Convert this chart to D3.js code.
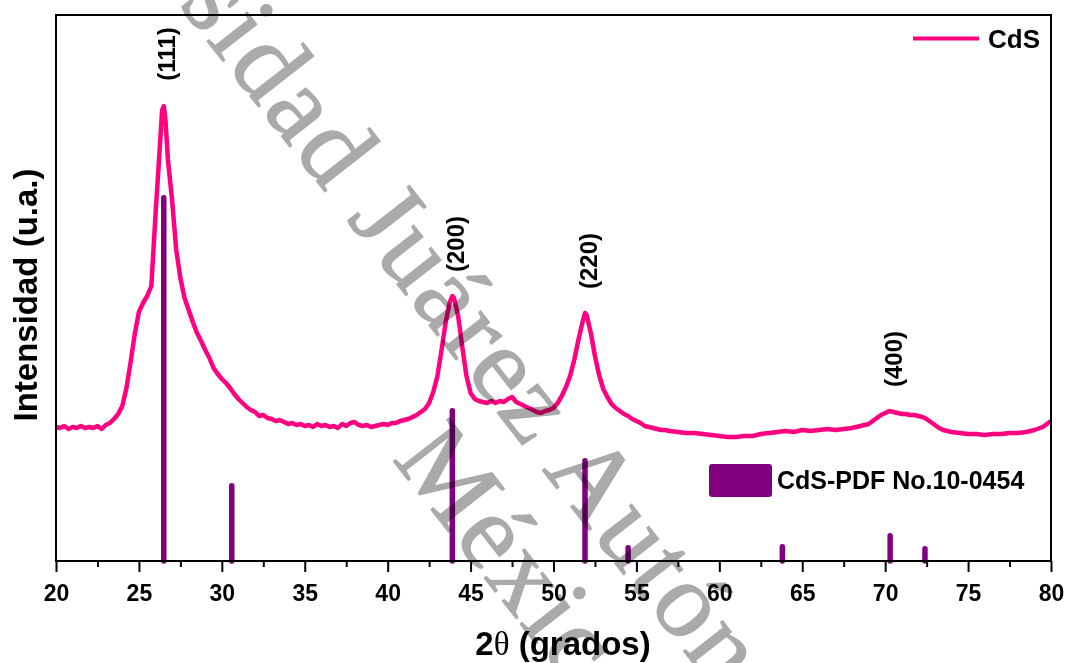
<!DOCTYPE html>
<html>
<head>
<meta charset="utf-8">
<script src="https://d3js.org/d3.v7.min.js"></script>
<style>
  body { margin: 0; background: #fff; }
  svg { display: block; font-family: "Liberation Sans", Arial, sans-serif; }
</style>
</head>
<body>
<div id="chart"></div>
<script>
// ==== Data: CdS pattern (2theta, intensity a.u.) ====
const cdsTheta = [
  20, 20.25, 20.5, 20.75, 21, 21.25, 21.5, 21.75, 22, 22.25, 22.5, 22.75,
  23, 23.25, 23.5, 23.75, 24, 24.25, 24.5, 24.75, 25, 25.25, 25.5, 25.75,
  26, 26.25, 26.4, 26.5, 26.6, 26.75, 27, 27.25, 27.5, 27.75, 28, 28.25,
  28.5, 28.75, 29, 29.25, 29.5, 29.75, 30, 30.25, 30.5, 30.75, 31, 31.25,
  31.5, 31.75, 32, 32.25, 32.5, 32.75, 33, 33.25, 33.5, 33.75, 34, 34.25,
  34.5, 34.75, 35, 35.25, 35.5, 35.75, 36, 36.25, 36.5, 36.75, 37, 37.25,
  37.5, 37.75, 38, 38.25, 38.5, 38.75, 39, 39.25, 39.5, 39.75, 40, 40.25,
  40.5, 40.75, 41, 41.25, 41.5, 41.75, 42, 42.25, 42.5, 42.75, 43, 43.25,
  43.5, 43.75, 43.9, 44, 44.25, 44.5, 44.75, 45, 45.25, 45.5, 45.75, 46,
  46.25, 46.5, 46.75, 47, 47.25, 47.5, 47.75, 48, 48.25, 48.5, 48.75, 49,
  49.25, 49.5, 49.75, 50, 50.25, 50.5, 50.75, 51, 51.25, 51.5, 51.75, 51.9,
  52, 52.25, 52.5, 52.75, 53, 53.25, 53.5, 53.75, 54, 54.25, 54.5, 54.75,
  55, 55.25, 55.5, 55.75, 56, 56.25, 56.5, 56.75, 57, 57.5, 58, 58.5,
  59, 59.5, 60, 60.5, 61, 61.5, 62, 62.5, 63, 63.5, 64, 64.5,
  65, 65.5, 66, 66.5, 67, 67.5, 68, 68.5, 69, 69.25, 69.5, 69.75,
  70, 70.25, 70.5, 70.75, 71, 71.25, 71.5, 71.75, 72, 72.25, 72.5, 72.75,
  73, 73.25, 73.5, 74, 74.5, 75, 75.5, 76, 76.5, 77, 77.5, 78,
  78.5, 79, 79.5, 79.75, 80
];
const cdsIntensity = [
  134, 133, 135, 132, 134, 133, 135, 133, 134, 133, 135, 132,
  136, 138, 142, 147, 155, 173, 199, 227, 249, 258, 265, 275,
  346, 411, 451, 455, 441, 401, 361, 311, 283, 263, 251, 239,
  228, 220, 211, 203, 193, 187, 182, 178, 173, 167, 162, 158,
  154, 151, 149, 145, 146, 143, 142, 140, 141, 139, 137, 138,
  136, 137, 135, 136, 134, 137, 135, 136, 134, 135, 133, 137,
  135, 138, 139, 136, 135, 136, 134, 135, 136, 137, 136, 138,
  138, 140, 141, 142, 144, 146, 149, 152, 158, 169, 185, 211,
  239, 259, 265, 263, 245, 214, 185, 168, 162, 160, 159, 158,
  160, 158, 160, 159, 162, 164, 159, 157, 155, 153, 151, 149,
  148, 150, 151, 153, 158, 165, 174, 185, 201, 221, 239, 248,
  246, 228, 205, 186, 172, 164, 157, 153, 150, 147, 145, 142,
  140, 138, 135, 134, 133, 132, 131, 131, 130, 129, 128, 128,
  127, 126, 125, 124, 124, 125, 125, 127, 128, 129, 130, 129,
  131, 130, 131, 132, 131, 132, 133, 135, 137, 140, 143, 146,
  148, 150, 149, 148, 147, 147, 146, 146, 145, 144, 142, 139,
  136, 133, 131, 129, 128, 127, 127, 126, 127, 127, 128, 128,
  129, 131, 134, 137, 140
];

// ==== Data: reference sticks CdS-PDF No.10-0454 ====
const pdfTheta = [26.5, 30.6, 43.9, 51.9, 54.5, 63.8, 70.3, 72.4];
const pdfIntensity = [366, 78, 153, 103, 16, 17, 28, 15];

// Peak labels
const peakLabels = ["(111)", "(200)", "(220)", "(400)"];
const peakTheta = [26.5, 43.9, 51.9, 70.3];

// Axis ticks
const majorTicks = [20, 25, 30, 35, 40, 45, 50, 55, 60, 65, 70, 75, 80];
const minorTicks = [22.5, 27.5, 32.5, 37.5, 42.5, 47.5, 52.5, 57.5, 62.5, 67.5, 72.5, 77.5];

// ==== Setup ====
const width = 1068, height = 663;
const margin = { left: 56, right: 17, top: 15, bottom: 102 };
const pink = "#ff0080", purple = "#800080";

const svg = d3.select("#chart").append("svg")
  .attr("width", width)
  .attr("height", height);

const x = d3.scaleLinear().domain([20, 80]).range([margin.left, width - margin.right]);
const y = d3.scaleLinear().domain([0, 546]).range([height - margin.bottom, margin.top]);

// Sticks
svg.append("g").selectAll("line")
  .data(pdfTheta)
  .join("line")
  .attr("x1", d => x(d)).attr("x2", d => x(d))
  .attr("y1", y(0))
  .attr("y2", (d, i) => y(pdfIntensity[i]) + 2.75)
  .attr("stroke", purple)
  .attr("stroke-width", 5.5)
  .attr("stroke-linecap", "round");

// CdS curve
const line = d3.line()
  .x((d, i) => x(cdsTheta[i]))
  .y(d => y(d));

svg.append("path")
  .datum(cdsIntensity)
  .attr("d", line)
  .attr("fill", "none")
  .attr("stroke", pink)
  .attr("stroke-width", 4.5)
  .attr("stroke-linejoin", "round");

// Frame
svg.append("rect")
  .attr("x", margin.left).attr("y", margin.top)
  .attr("width", width - margin.left - margin.right)
  .attr("height", height - margin.top - margin.bottom)
  .attr("fill", "none")
  .attr("stroke", "#000")
  .attr("stroke-width", 2);

// X axis
const axisG = svg.append("g")
  .attr("transform", `translate(0,${y(0)})`)
  .call(d3.axisBottom(x).tickValues(majorTicks).tickSize(11).tickPadding(13).tickFormat(d3.format("d")));
axisG.select(".domain").remove();
axisG.selectAll("line").attr("stroke-width", 2);
axisG.selectAll("text")
  .attr("font-size", 23)
  .attr("font-weight", "bold")
  .attr("font-family", "'Liberation Sans', Arial, sans-serif")
  .attr("fill", "#000");

const minorG = svg.append("g")
  .attr("transform", `translate(0,${y(0)})`)
  .call(d3.axisBottom(x).tickValues(minorTicks).tickSize(6).tickFormat(""));
minorG.select(".domain").remove();
minorG.selectAll("line").attr("stroke-width", 2);

// Axis titles
const xTitle = svg.append("text")
  .attr("x", 563).attr("y", 655)
  .attr("text-anchor", "middle")
  .attr("font-size", 33)
  .attr("font-weight", "bold");
xTitle.append("tspan").text("2");
xTitle.append("tspan").attr("font-weight", "normal").attr("font-family", "'Liberation Serif', serif").text("θ");
xTitle.append("tspan").text(" (grados)");

svg.append("text")
  .attr("transform", `translate(37,${(margin.top + y(0)) / 2 + 7}) rotate(-90)`)
  .attr("text-anchor", "middle")
  .attr("font-size", 33)
  .attr("font-weight", "bold")
  .text("Intensidad (u.a.)");

// Peak labels
function peakHeight(t) {
  const i = d3.minIndex(cdsTheta, v => Math.abs(v - t));
  return cdsIntensity[i];
}
svg.append("g").selectAll("text")
  .data(peakLabels)
  .join("text")
  .attr("transform", (d, i) => `translate(${x(peakTheta[i]) + 3},${y(peakHeight(peakTheta[i])) - 52}) rotate(-90)`)
  .attr("text-anchor", "middle")
  .attr("dominant-baseline", "central")
  .attr("font-size", 24)
  .attr("font-weight", "bold")
  .text(d => d);

// Legend
svg.append("line")
  .attr("x1", 913).attr("x2", 979).attr("y1", 38.5).attr("y2", 38.5)
  .attr("stroke", pink).attr("stroke-width", 4);
svg.append("text")
  .attr("x", 988).attr("y", 48)
  .attr("font-size", 26).attr("font-weight", "bold")
  .text("CdS");

svg.append("rect")
  .attr("x", 709).attr("y", 464).attr("width", 63).attr("height", 33).attr("rx", 3)
  .attr("fill", purple);
svg.append("text")
  .attr("x", 777).attr("y", 489)
  .attr("font-size", 25).attr("font-weight", "bold")
  .text("CdS-PDF No.10-0454");

// Watermark
const wm = svg.append("g")
  .attr("transform", "translate(178,4) rotate(52)")
  .style("mix-blend-mode", "multiply")
  .attr("fill", "#aaaaaa")
  .attr("stroke", "#aaaaaa")
  .attr("stroke-width", 1.2)
  .attr("font-family", "'Liberation Serif', 'Times New Roman', serif")
  .attr("font-size", 108)
  .attr("letter-spacing", 3);
wm.append("text").attr("text-anchor", "end").text("Univer");
wm.append("text").text("sidad Juárez Autónoma de Tabasco.");
wm.append("text").attr("x", 490).attr("y", 112).text("México.");
</script>
</body>
</html>
